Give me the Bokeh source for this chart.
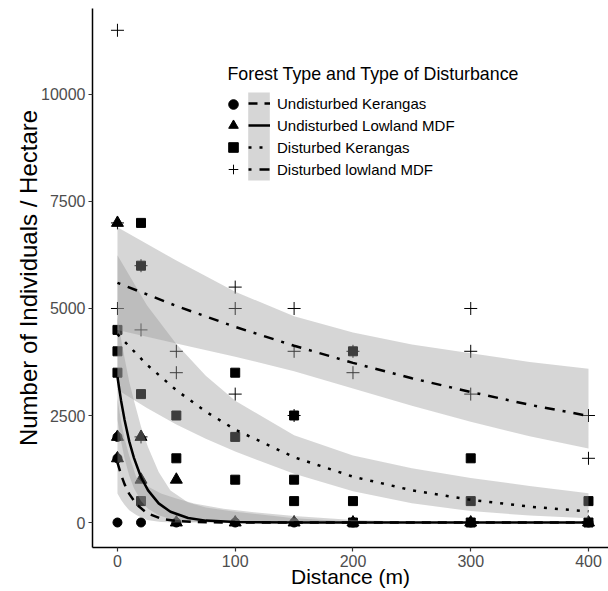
from bokeh.plotting import figure
from bokeh.models import Range1d, FixedTicker, Legend, LegendItem, Label
from bokeh.embed import file_html
from bokeh.resources import INLINE

FONT = "Liberation Sans"

# ---- observed points ----
uk_x = [0, 0, 0, 20, 20, 50, 100, 150, 200, 300, 400]
uk_y = [2000, 1500, 0, 500, 0, 0, 0, 0, 0, 0, 0]

ul_x = [0, 0, 0, 20, 20, 50, 50, 100, 150, 200, 300, 400]
ul_y = [7000, 2000, 1500, 2000, 1000, 1000, 0, 0, 0, 0, 0, 0]

dk_x = [0, 0, 0, 20, 20, 20, 20, 50, 50, 100, 100, 100, 150, 150, 150, 200, 200, 200, 300, 300, 300, 400, 400]
dk_y = [4500, 4000, 3500, 7000, 6000, 3000, 500, 2500, 1500, 3500, 2000, 1000, 2500, 1000, 500, 4000, 500, 0, 1500, 500, 0, 500, 0]

dl_x = [0, 0, 0, 20, 20, 20, 50, 50, 100, 100, 100, 150, 150, 150, 200, 200, 300, 300, 300, 400, 400]
dl_y = [11500, 7000, 5000, 6000, 4500, 2000, 4000, 3500, 5500, 5000, 3000, 5000, 4000, 2500, 4000, 3500, 5000, 4000, 3000, 2500, 1500]

# ---- fitted curves and confidence bands ----
uk_fx = [0, 3, 6, 10, 16, 25, 37, 50, 65, 90, 116, 150, 200, 250, 300, 400]
uk_fit = [1400, 1120, 896, 668, 428, 220, 90, 35, 11, 2, 0.3, 0, 0, 0, 0, 0]
uk_hi = [2900, 2370, 1960, 1560, 1058, 850, 677, 560, 444, 320, 241, 150, 60, 20, 8, 2]
uk_lo = [677, 530, 412, 285, 174, 57, 12, 2, 0, 0, 0, 0, 0, 0, 0, 0]

ul_fx = [0, 3, 6, 10, 14, 20, 26, 35, 45, 60, 75, 100, 150, 200, 300, 400]
ul_fit = [3400, 2858, 2403, 1897, 1510, 1058, 751, 447, 250, 105, 44, 10, 1, 0, 0, 0]
ul_hi = [4800, 4300, 3850, 3290, 2850, 2240, 1760, 1180, 750, 470, 350, 250, 100, 20, 5, 2]
ul_lo = [2408, 1897, 1502, 1095, 800, 500, 321, 169, 83, 23, 5, 0, 0, 0, 0, 0]

dk_fx = [0, 25, 50, 75, 100, 150, 200, 250, 300, 350, 400]
dk_fit = [4400, 3688, 3091, 2590, 2171, 1525, 1071, 752, 528, 371, 261]
dk_hi = [6244, 5078, 4173, 3427, 2844, 2037, 1566, 1265, 1042, 851, 682]
dk_lo = [3101, 2678, 2290, 1958, 1657, 1141, 733, 447, 267, 162, 100]

dl_fx = [0, 50, 100, 150, 200, 250, 300, 350, 400]
dl_fit = [5600, 5060, 4570, 4130, 3730, 3370, 3050, 2750, 2490]
dl_hi = [6900, 6120, 5390, 4820, 4440, 4160, 3955, 3750, 3590]
dl_lo = [4495, 4185, 3875, 3535, 3130, 2730, 2352, 2016, 1728]

labels = ["Undisturbed Kerangas", "Undisturbed Lowland MDF", "Disturbed Kerangas", "Disturbed lowland MDF"]
legend_title = "Forest Type and Type of Disturbance"
x_ticks = [0, 100, 200, 300, 400]
y_ticks = [0, 2500, 5000, 7500, 10000]

p = figure(width=608, height=591, output_backend="svg", toolbar_location=None,
           x_range=Range1d(-21.2, 417), y_range=Range1d(-584, 12009),
           min_border_left=92, min_border_right=0, min_border_top=8, min_border_bottom=44)
p.outline_line_color = None
p.xgrid.visible = False
p.ygrid.visible = False
p.background_fill_color = "white"

for ax in (p.xaxis[0], p.yaxis[0]):
    ax.axis_line_color = "black"
    ax.axis_line_width = 1.5
    ax.major_tick_line_color = "#333333"
    ax.major_tick_line_width = 1.2
    ax.major_tick_out = 4
    ax.major_tick_in = 0
    ax.minor_tick_line_color = None
    ax.major_label_text_font = FONT
    ax.major_label_text_font_size = "16px"
    ax.major_label_text_color = "#4D4D4D"
    ax.major_label_standoff = 3
    ax.axis_label_text_font = FONT
    ax.axis_label_text_font_style = "normal"
    ax.axis_label_text_color = "black"

p.xaxis[0].ticker = FixedTicker(ticks=x_ticks)
p.yaxis[0].ticker = FixedTicker(ticks=y_ticks)
p.xaxis[0].axis_label = "Distance (m)"
p.yaxis[0].axis_label = "Number of Individuals / Hectare"
p.xaxis[0].axis_label_text_font_size = "21px"
p.yaxis[0].axis_label_text_font_size = "24px"
p.xaxis[0].axis_label_standoff = -5
p.yaxis[0].axis_label_standoff = -4

# points
s_uk = p.scatter(uk_x, uk_y, marker="circle", size=9, color="black")
s_ul = p.scatter(ul_x, ul_y, marker="triangle", size=12, color="black")
s_dk = p.scatter(dk_x, dk_y, marker="square", size=9, color="black")
s_dl = p.scatter(dl_x, dl_y, marker="cross", size=13, line_color="black", line_width=1)

# ribbons
band = dict(fill_color="#999999", fill_alpha=0.4)
r_uk = p.varea(uk_fx, uk_lo, uk_hi, **band)
r_ul = p.varea(ul_fx, ul_lo, ul_hi, **band)
r_dk = p.varea(dk_fx, dk_lo, dk_hi, **band)
r_dl = p.varea(dl_fx, dl_lo, dl_hi, **band)

# lines
lw = 2.5
l_uk = p.line(uk_fx, uk_fit, line_color="black", line_width=lw, line_dash="9 7")
l_ul = p.line(ul_fx, ul_fit, line_color="black", line_width=lw)
l_dk = p.line(dk_fx, dk_fit, line_color="black", line_width=lw, line_dash="3 8")
l_dl = p.line(dl_fx, dl_fit, line_color="black", line_width=lw, line_dash="3 8 10 8")

clear = dict(padding=0, margin=0, spacing=0, background_fill_alpha=0, border_line_alpha=0)

# legend: grey key column
p.add_layout(Legend(items=[LegendItem(label=" ", renderers=[r_dl])],
                    location=(153, 356), glyph_width=27, glyph_height=110, label_height=110,
                    label_text_font_size="1px", label_standoff=0, **clear))

# legend title
p.add_layout(Label(x=135, y=474, x_units="screen", y_units="screen", text=legend_title,
                   text_font=FONT, text_font_size="17.8px", text_color="black",
                   text_baseline="middle", text_align="left"))

# legend: point keys, one small legend per row so the markers keep their size
row_centres = [103.5, 125.3, 147.1, 168.9]
for r, cy in zip((s_uk, s_ul, s_dk, s_dl), row_centres):
    p.add_layout(Legend(items=[LegendItem(label=" ", renderers=[r])],
                        location=(129, int(round(547 - (cy + 15)))), glyph_width=24, glyph_height=30,
                        label_height=30, label_text_font_size="1px", label_standoff=0, **clear))

# legend: line keys with labels
p.add_layout(Legend(items=[LegendItem(label=lab, renderers=[r]) for lab, r in zip(labels, (l_uk, l_ul, l_dk, l_dl))],
                    location=(156, 367), glyph_width=22, glyph_height=22, label_height=22,
                    label_text_font=FONT, label_text_font_size="15px", label_text_color="black",
                    label_standoff=7, **clear))

open("out.html", "w").write(file_html(p, INLINE))
